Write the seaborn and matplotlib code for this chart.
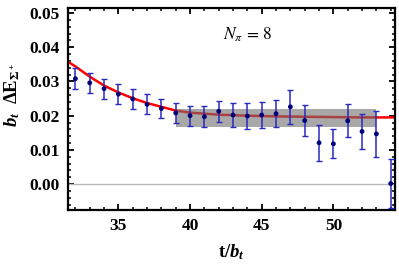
import numpy as np
import pandas as pd
import matplotlib
matplotlib.use("Agg")
import matplotlib.pyplot as plt
from matplotlib.ticker import MultipleLocator, FormatStrFormatter
import seaborn as sns

# --- dati ---
t_vals = [32, 33, 34, 35, 36, 37, 38, 39, 40, 41, 42, 43,
          44, 45, 46, 47, 48, 49, 50, 51, 52, 53, 54]
dE_vals = [0.0308, 0.0296, 0.0279, 0.0263, 0.0249, 0.0233, 0.0221, 0.0208,
           0.0200, 0.0197, 0.0213, 0.0202, 0.0199, 0.0202, 0.0206, 0.0226,
           0.0186, 0.0121, 0.0118, 0.0185, 0.0154, 0.0147, 0.0002]
dE_err = [0.0030, 0.0030, 0.0029, 0.0030, 0.0028, 0.0029, 0.0029, 0.0029,
          0.0029, 0.0030, 0.0030, 0.0034, 0.0037, 0.0038, 0.0039, 0.0050,
          0.0044, 0.0052, 0.0042, 0.0048, 0.0052, 0.0067, 0.0071]

fit_t = [31.5, 32, 33, 34, 35, 36, 37, 38, 39, 40, 42, 44, 46, 48, 50, 52, 54.3]
fit_y = [0.0357, 0.0344, 0.0314, 0.0288, 0.0268, 0.0251, 0.0237, 0.0226,
         0.0215, 0.0209, 0.0203, 0.0200, 0.0198, 0.0197, 0.0196, 0.0195, 0.0195]

# banda del plateau
band_t = [39, 53]
band_lo = 0.0168
band_hi = 0.0221

df = pd.DataFrame({"t": t_vals, "dE": dE_vals, "err": dE_err})
df_fit = pd.DataFrame({"t": fit_t, "fit": fit_y})

sns.set_theme(style="ticks")
plt.rcParams["font.family"] = ["Liberation Serif", "DejaVu Serif"]
plt.rcParams["mathtext.fontset"] = "custom"
plt.rcParams["mathtext.rm"] = "Liberation Serif:bold"
plt.rcParams["mathtext.bf"] = "Liberation Serif:bold"
plt.rcParams["mathtext.it"] = "Liberation Serif:italic:bold"
plt.rcParams["text.color"] = "black"
plt.rcParams["axes.labelcolor"] = "black"
plt.rcParams["xtick.color"] = "black"
plt.rcParams["ytick.color"] = "black"

fig = plt.figure(figsize=(3.99, 2.64), dpi=100)
ax = fig.add_axes([0.171, 0.205, 0.819, 0.764])

ax.axhline(0, color="#bbbbbb", linewidth=1.0, zorder=1)

sns.lineplot(data=df_fit, x="t", y="fit", color="#ff0000", linewidth=1.8,
             ax=ax, zorder=2)

ax.fill_between(band_t, band_lo, band_hi, color="#6e6e6e", alpha=0.6,
                linewidth=0, zorder=3)

ax.errorbar(df["t"], df["dE"], yerr=df["err"], fmt="none",
            ecolor="#2a2abf", elinewidth=1.1, capsize=2.2, capthick=1.0,
            zorder=4)
sns.scatterplot(data=df, x="t", y="dE", color="#00007a", s=12,
                edgecolor="none", ax=ax, zorder=5)

ax.text(42.3, 0.0436, r"$N_\pi\,=\,8$", fontsize=12.5, fontweight="normal",
        math_fontfamily="stix", va="center", ha="left")

ax.set_xlim(31.5, 54.3)
ax.set_ylim(-0.0075, 0.0514)
ax.xaxis.set_major_locator(MultipleLocator(5))
ax.xaxis.set_minor_locator(MultipleLocator(1))
ax.yaxis.set_major_locator(MultipleLocator(0.01))
ax.yaxis.set_minor_locator(MultipleLocator(0.002))
ax.yaxis.set_major_formatter(FormatStrFormatter("%.2f"))

ax.tick_params(which="both", direction="in", top=True, right=True,
               labelsize=12.5, color="black", labelcolor="black")
ax.tick_params(which="major", length=4, width=1.3, pad=6)
ax.tick_params(which="minor", length=2.2, width=1.1)
for lab in ax.get_xticklabels() + ax.get_yticklabels():
    lab.set_fontweight("bold")
for s in ax.spines.values():
    s.set_linewidth(1.6)
    s.set_color("black")

ax.set_xlabel(r"$\mathrm{t}/b_t$", fontsize=13.5)
ax.set_ylabel(r"$b_t\ \ \Delta\mathrm{E}_{\Sigma^+}$", fontsize=13.5)
ax.xaxis.set_label_coords(0.5, -0.16)
ax.yaxis.set_label_coords(-0.14, 0.57)

fig.savefig("out.png", dpi=100)
